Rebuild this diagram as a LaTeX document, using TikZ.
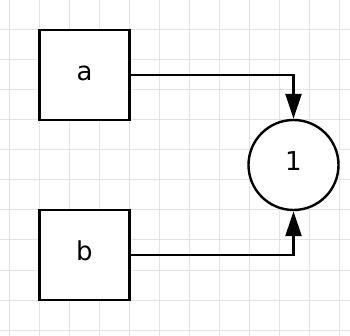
\documentclass[tikz,border=0pt]{standalone}
\usepackage{fontspec}
\setmainfont{DejaVu Sans}
\usetikzlibrary{arrows.meta,positioning}
\tikzset{box/.style={draw,line width=2.4pt,minimum size=90pt,inner sep=0pt,fill=white,
    font=\fontsize{26}{31}\selectfont,text height=18pt,text depth=6pt},
  roundnode/.style={box,circle},
  arr/.style={-{Triangle[length=25pt,width=16pt]},line width=2.4pt},
  gridline/.style={draw=gray!22,line width=1pt}}

\begin{document}
\begin{tikzpicture}[x=1pt,y=-1pt]
\useasboundingbox[fill=white] (0,0) rectangle (350,336);
\foreach \k in {0,...,11}{\draw[gridline] ({9.5+30*\k},0) -- ({9.5+30*\k},336);}
\foreach \k in {1,...,11}{\draw[gridline] (0,30*\k) -- (350,30*\k);}
\node[box] (a) at (84.5,75) {a};
\node[box] (b) at (84.5,255) {b};
\node[roundnode] (one) at (293.5,165) {1};
\draw[arr] (a.east) -| (one.north);
\draw[arr] (b.east) -| (one.south);
\end{tikzpicture}
\end{document}
